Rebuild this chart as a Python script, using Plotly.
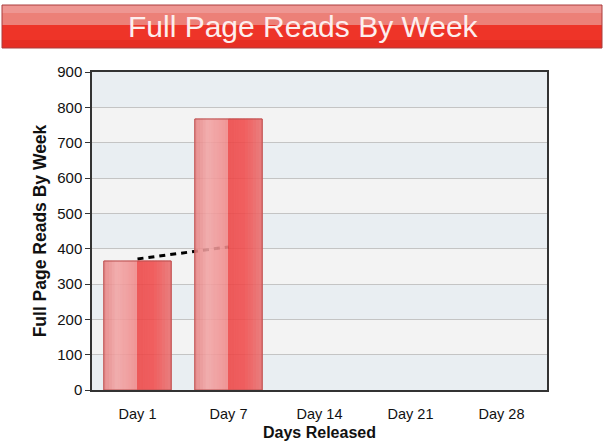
import plotly.graph_objects as go

categories = ["Day 1", "Day 7", "Day 14", "Day 21", "Day 28"]
reads = [365, 767, None, None, None]
trend = [371, 405, None, None, None]
y_ticks = [0, 100, 200, 300, 400, 500, 600, 700, 800, 900]

W, H = 605, 444
ML, MR, MT, MB = 92, 58, 72, 54
PW, PH = W - ML - MR, H - MT - MB


def px_x(p):
    return (p - ML) / PW


def px_y(p):
    return (H - MB - p) / PH


def lerp(c1, c2, t):
    return tuple(round(a + (b - a) * t) for a, b in zip(c1, c2))


# colour stops across a bar's width (fraction -> rgb)
stops = [
    (0.00, (230, 128, 128)),
    (0.20, (242, 165, 165)),
    (0.49, (240, 138, 138)),
    (0.50, (238, 68, 68)),
    (0.75, (240, 76, 76)),
    (1.00, (234, 110, 110)),
]


def color_at(f):
    for (f1, c1), (f2, c2) in zip(stops, stops[1:]):
        if f1 <= f <= f2:
            t = 0 if f2 == f1 else (f - f1) / (f2 - f1)
            return lerp(c1, c2, t)
    return stops[-1][1]


fig = go.Figure()

# trend line (drawn underneath the bars)
fig.add_trace(go.Scatter(
    x=categories, y=trend, mode="lines",
    line=dict(color="black", width=3, dash="6px,5px"),
    hoverinfo="skip", showlegend=False, xaxis="x", yaxis="y",
))

BW = 0.74
N = 24
sw = BW / N
sx, sy, soff, scol = [], [], [], []
for cat, val in zip(categories, reads):
    if val is None:
        continue
    for i in range(N):
        sx.append(cat)
        sy.append(val)
        soff.append(-BW / 2 + i * sw)
        scol.append("rgb(%d,%d,%d)" % color_at((i + 0.5) / N))

fig.add_trace(go.Bar(
    x=sx, y=sy, width=sw, offset=soff,
    marker=dict(color=scol, line=dict(color=scol, width=1)),
    opacity=0.88, showlegend=False, hoverinfo="skip",
    xaxis="x2", yaxis="y2",
))

fig.add_trace(go.Bar(
    x=categories, y=reads, width=BW, offset=-BW / 2,
    marker=dict(color="rgba(0,0,0,0)", line=dict(color="rgb(185,80,80)", width=1)),
    showlegend=False, xaxis="x2", yaxis="y2",
))

shapes = []
# alternating background bands
for i in range(len(y_ticks) - 1):
    col = "#e9eef2" if i % 2 == 0 else "#f3f3f3"
    shapes.append(dict(type="rect", xref="paper", yref="y", x0=0, x1=1,
                       y0=y_ticks[i], y1=y_ticks[i + 1], fillcolor=col,
                       line=dict(width=0), layer="below"))

# title banner
banner = [
    (5, 13, "rgb(238,150,146)"),
    (13, 25, "rgb(236,128,120)"),
    (25, 40, "rgb(238,52,40)"),
    (40, 48, "rgb(230,46,36)"),
]
for y0, y1, col in banner:
    shapes.append(dict(type="rect", xref="paper", yref="paper",
                       x0=px_x(2), x1=px_x(602), y0=px_y(y1), y1=px_y(y0),
                       fillcolor=col, line=dict(width=0), layer="above"))
shapes.append(dict(type="rect", xref="paper", yref="paper",
                   x0=px_x(2), x1=px_x(602), y0=px_y(48), y1=px_y(5),
                   fillcolor="rgba(0,0,0,0)",
                   line=dict(color="rgb(170,60,60)", width=1), layer="above"))

fig.update_layout(
    width=W, height=H,
    margin=dict(l=ML, r=MR, t=MT, b=MB, autoexpand=False),
    paper_bgcolor="white", plot_bgcolor="#f3f3f3",
    barmode="overlay",
    font=dict(family="Liberation Sans, Arial, sans-serif", size=14, color="#111"),
    shapes=shapes,
    annotations=[dict(
        text="Full Page Reads By Week", xref="paper", yref="paper",
        x=px_x(303), y=px_y(27), showarrow=False,
        font=dict(size=30, color="#fdeeee", family="Liberation Sans, Arial, sans-serif"),
        xanchor="center", yanchor="middle",
    )],
    xaxis=dict(
        categoryorder="array", categoryarray=categories, automargin=False,
        range=[-0.5, 4.5], showgrid=False, ticks="", ticklabelstandoff=10,
        tickfont=dict(size=14.5),
        showline=True, linecolor="#333", linewidth=1.5, mirror=True,
        title=dict(text="<b>Days Released</b>", font=dict(size=16), standoff=6),
        fixedrange=True,
    ),
    yaxis=dict(
        range=[0, 900], tickvals=y_ticks, showgrid=True, gridcolor="#c4c4c4",
        gridwidth=1, ticks="outside", ticklen=5, tickcolor="#333", automargin=False,
        tickfont=dict(size=15),
        showline=True, linecolor="#333", linewidth=1.5, mirror=True,
        zeroline=False,
        title=dict(text="<b>Full Page Reads By Week</b>", font=dict(size=17.5), standoff=6),
        fixedrange=True,
    ),
    xaxis2=dict(overlaying="x", categoryorder="array", categoryarray=categories,
                range=[-0.5, 4.5], visible=False, fixedrange=True),
    yaxis2=dict(overlaying="y", range=[0, 900], visible=False, fixedrange=True),
)

fig.write_html(
    "out.html",
    config={"displayModeBar": False},
    post_script="document.body.style.margin='0';document.body.style.overflow='hidden';",
)
